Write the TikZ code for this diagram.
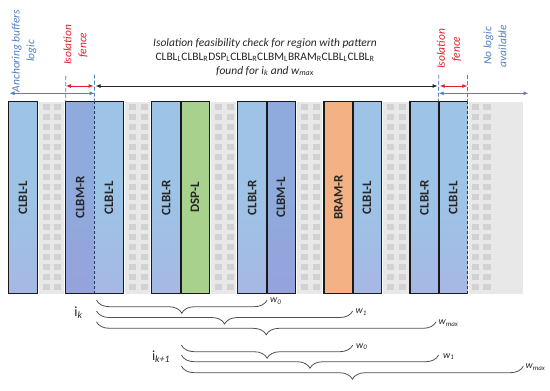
\documentclass[tikz,border=0pt]{standalone}
\usepackage{fontspec}
\setmainfont{Carlito}
\usetikzlibrary{arrows.meta,decorations.pathreplacing,shadings}
\definecolor{clbl}{RGB}{157,195,230}
\definecolor{clblb}{RGB}{166,184,228}
\definecolor{clbm}{RGB}{143,170,220}
\definecolor{clbmb}{RGB}{150,162,220}
\definecolor{dsp}{RGB}{169,209,142}
\definecolor{bram}{RGB}{244,177,131}
\definecolor{gbg}{RGB}{232,232,232}
\definecolor{gsq}{RGB}{210,210,210}
\definecolor{ablue}{RGB}{84,128,196}
\definecolor{ared}{RGB}{222,32,44}
\definecolor{navy}{RGB}{31,56,100}
\definecolor{brc}{RGB}{80,80,80}
\definecolor{ink}{RGB}{38,38,38}
\begin{document}
\begin{tikzpicture}[x=1bp,y=-1bp,
  colbox/.style={minimum width=28.68bp, minimum height=192bp, inner sep=0pt, draw=none},
  fclbl/.style={top color=clbl, bottom color=clblb, middle color=clbl},
  fclbm/.style={top color=clbm, bottom color=clbmb, middle color=clbm},
  fdsp/.style={fill=dsp},
  fbram/.style={fill=bram},
  collab/.style={rotate=90, inner sep=0pt, text=ink, font=\fontsize{13}{15}\selectfont\bfseries},
  border/.style={draw=black!90, line width=1.5bp},
  navydash/.style={draw=navy, line width=1.1bp, dash pattern=on 3bp off 2bp},
  fenceline/.style={draw=ablue, line width=0.8bp, dash pattern=on 4bp off 2bp},
  arr/.style={line width=0.9bp, {Latex[length=5bp,width=4bp]}-{Latex[length=5bp,width=4bp]}},
  rtxt/.style={rotate=90, align=center, inner sep=0pt, font=\fontsize{11.5}{15}\selectfont\itshape},
  title/.style={align=center, inner sep=0pt, text=ink, font=\fontsize{11.5}{14}\selectfont},
  brace/.style={decorate, decoration={brace, mirror, amplitude=13bp}, draw=brc, line width=0.8bp},
  wlab/.style={anchor=west, inner sep=0pt, text=ink, font=\fontsize{10}{12}\selectfont\itshape},
  ilab/.style={inner sep=0pt, text=ink, font=\fontsize{14}{16}\selectfont}
]
\fill[white] (0,0) rectangle (550,390);
\useasboundingbox (0,0) rectangle (550,390);

% gray gaps with grid squares
\foreach \g in {1,4,7,10,13} {
  \fill[gbg] ({8.5+28.68*\g+1.5},101.5) rectangle ({8.5+28.68*(\g+1)-1.5},293.5);
  \foreach \k in {0,...,18} {
    \fill[gsq] ({8.5+28.68*\g+6},{103.5+10*\k}) rectangle ++(7,6.3);
    \fill[gsq] ({8.5+28.68*\g+17.3},{103.5+10*\k}) rectangle ++(7,6.3);
  }
}
\fill[gbg] (468.5,101.5) rectangle (523.3,293.5);
\foreach \k in {0,...,18} {
  \fill[gsq] (471.8,{103.5+10*\k}) rectangle ++(7.3,6.3);
  \fill[gsq] (483.4,{103.5+10*\k}) rectangle ++(7.3,6.3);
}

% columns
\foreach \i/\t/\c in {0/CLBL-L/fclbl, 2/CLBM-R/fclbm, 3/CLBL-L/fclbl, 5/CLBL-R/fclbl, 6/DSP-L/fdsp,
  8/CLBL-R/fclbl, 9/CLBM-L/fclbm, 11/BRAM-R/fbram, 12/CLBL-L/fclbl, 14/CLBL-R/fclbl, 15/CLBL-L/fclbl} {
  \node[colbox, \c] (c\i) at ({8.5+28.68*\i+14.34},197.5) {};
  \node[collab] (t\i) at (c\i) {\t};
}

% borders
\draw[border] (c0.north west) rectangle (c0.south east);
\draw[border] (c2.north west) rectangle (c3.south east);
\draw[navydash] (c2.north east) -- (c2.south east);
\draw[border] (c5.north west) rectangle (c6.south east);
\draw[border] (c5.north east) -- (c5.south east);
\draw[border] (c8.north west) rectangle (c9.south east);
\draw[border] (c8.north east) -- (c8.south east);
\draw[border] (c11.north west) rectangle (c12.south east);
\draw[border] (c11.north east) -- (c11.south east);
\draw[border] (c15.north east) -- (c14.north west) -- (c14.south west) -- (c15.south east);
\draw[border] (c14.north east) -- (c14.south east);
\draw[navydash] (c15.north east) -- (c15.south east);

% fence markers
\coordinate (fa) at (65.86,76);
\coordinate (fb) at (94.54,74.5);
\coordinate (fc) at (438.7,74.5);
\coordinate (fd) at (467.38,75);
\draw[fenceline] (fa) -- (c2.north west);
\draw[fenceline] (fb) -- (c3.north west);
\draw[fenceline] (fc) -- (c15.north west);
\draw[fenceline] (fd) -- (c15.north east);

% arrows
\coordinate (bl1) at (9.5,93.3);
\coordinate (bl2) at (94.54,93.3);
\coordinate (rd1) at (65.86,86);
\coordinate (rd2) at (93.6,86);
\coordinate (bk1) at (95.6,86);
\coordinate (bk2) at (437.6,86);
\coordinate (rd3) at (439.7,86);
\coordinate (rd4) at (467.38,86);
\coordinate (bl3) at (438.7,93.3);
\coordinate (bl4) at (528.5,93.3);
\draw[arr, draw=ablue, fill=ablue] (bl1) -- (bl2);
\draw[arr, draw=ared, fill=ared] (rd1) -- (rd2);
\draw[arr, draw=ink, fill=ink] (bk1) -- (bk2);
\draw[arr, draw=ared, fill=ared] (rd3) -- (rd4);
\draw[arr, draw=ablue, fill=ablue] (bl3) -- (bl4);

% rotated annotations
\node[rtxt, text=ablue] (anch) at (24,51) {Anchoring buffers\\logic};
\node[rtxt, text=ared] (iso1) at (75.5,45) {Isolation\\fence};
\node[rtxt, text=ared] (iso2) at (449,49) {Isolation\\fence};
\node[rtxt, text=ablue] (nolog) at (495,46) {No logic\\available};

% title
\node[title] (ttl) at (265,57) {{\itshape Isolation feasibility check for region with pattern}\\
CLBL\textsubscript{L}CLBL\textsubscript{R}DSP\textsubscript{L}CLBL\textsubscript{R}CLBM\textsubscript{L}BRAM\textsubscript{R}CLBL\textsubscript{L}CLBL\textsubscript{R}\\
{\itshape found for i\textsubscript{k} and w\textsubscript{max}}};

% braces
\coordinate (b1s) at (96.5,300.2);  \coordinate (b1e) at (267,300.2);
\coordinate (b2s) at (96.5,311);    \coordinate (b2e) at (352.7,311);
\coordinate (b3s) at (96.5,321.8);  \coordinate (b3e) at (436,321.8);
\coordinate (b4s) at (181.5,345.2); \coordinate (b4e) at (352.7,345.2);
\coordinate (b5s) at (181.5,355.2); \coordinate (b5e) at (438.5,355.2);
\coordinate (b6s) at (181.5,366.2); \coordinate (b6e) at (523.3,366.2);
\draw[brace] (b1s) -- (b1e);
\draw[brace] (b2s) -- (b2e);
\draw[brace] (b3s) -- (b3e);
\draw[brace] (b4s) -- (b4e);
\draw[brace] (b5s) -- (b5e);
\draw[brace] (b6s) -- (b6e);
\node[wlab] (w1a) at (270,301) {w\textsubscript{0}};
\node[wlab] (w1b) at (355.5,312) {w\textsubscript{1}};
\node[wlab] (w1c) at (438.5,323) {w\textsubscript{max}};
\node[wlab] (w2a) at (356,346.5) {w\textsubscript{0}};
\node[wlab] (w2b) at (443,356.5) {w\textsubscript{1}};
\node[wlab] (w2c) at (525.5,367) {w\textsubscript{max}};

\node[ilab] (ik) at (78.5,313) {i\textsubscript{\itshape k}};
\node[ilab] (ik1) at (161,357) {i\textsubscript{\itshape k+1}};
\end{tikzpicture}
\end{document}
